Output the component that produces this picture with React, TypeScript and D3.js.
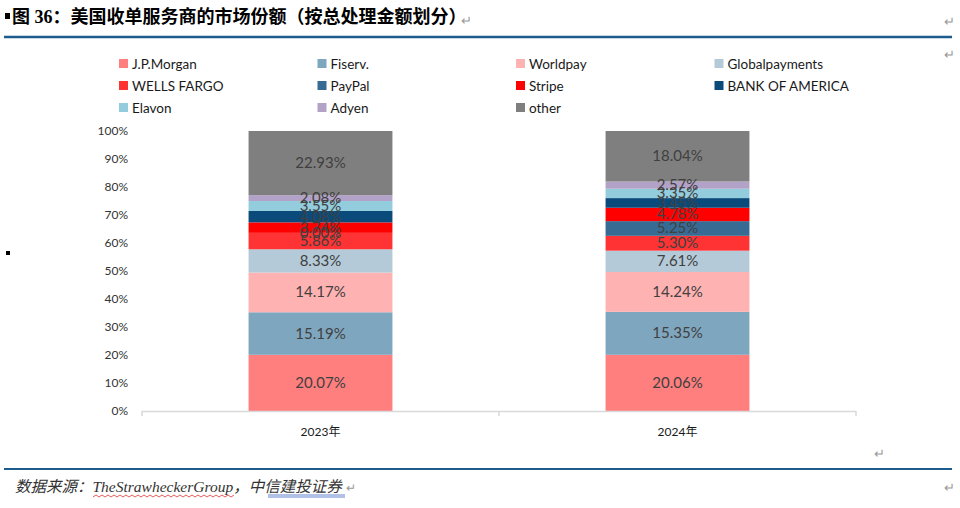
import * as d3 from "d3";

const years = ["2023年", "2024年"];
const series = [
  "J.P.Morgan",
  "Fiserv.",
  "Worldpay",
  "Globalpayments",
  "WELLS FARGO",
  "PayPal",
  "Stripe",
  "BANK OF AMERICA",
  "Elavon",
  "Adyen",
  "other",
];
const colors = [
  "#FF7F7F",
  "#7FA6BF",
  "#FFB2B2",
  "#B4CAD8",
  "#FF3333",
  "#376B93",
  "#FF0000",
  "#0B4B7B",
  "#93CDDD",
  "#B3A2C7",
  "#7F7F7F",
];
const values2023 = [20.07, 15.19, 14.17, 8.33, 5.86, 0.0, 3.74, 4.08, 3.55, 2.08, 22.93];
const values2024 = [20.06, 15.35, 14.24, 7.61, 5.3, 5.25, 4.78, 3.45, 3.35, 2.57, 18.04];
const yTicks = [0, 10, 20, 30, 40, 50, 60, 70, 80, 90, 100];

const W = 960;
const H = 508;
const latin = "Lato, 'Noto Sans CJK SC', sans-serif";
const serif = "'Liberation Serif', 'Noto Sans CJK SC', serif";

export default function App() {
  const x = d3
    .scaleBand()
    .domain(years)
    .range([142, 856])
    .paddingInner(0.597)
    .paddingOuter(0.2985);
  const y = d3.scaleLinear().domain([0, 100]).range([411, 131]);

  const rows = [values2023, values2024];
  const table = years.map((yr, i) => {
    const obj: Record<string, number | string> = { year: yr };
    series.forEach((s, j) => (obj[s] = rows[i][j]));
    return obj;
  });
  const stack = d3.stack<Record<string, number | string>>().keys(series)(table);

  const step = x.step();
  const axisTicks = [
    142,
    ...years.slice(1).map((yr) => (x(yr) || 0) - (step - x.bandwidth()) / 2),
    856,
  ];

  return (
    <svg
      width={W}
      height={H}
      style={{ position: "absolute", left: 0, top: 0, background: "#fff" }}
    >
      {/* title */}
      <rect x={5} y={13} width={5} height={6} fill="#000" />
      <text x={12} y={23} fontSize={18} fontWeight="bold" fontFamily={serif} fill="#000">
        图 36：美国收单服务商的市场份额（按总处理金额划分）
      </text>
      <text x={461} y={25} fontSize={13} fill="#999" fontFamily={latin}>↵</text>
      <text x={944} y={26} fontSize={13} fill="#999" fontFamily={latin}>↵</text>
      <text x={944} y={59} fontSize={13} fill="#999" fontFamily={latin}>↵</text>
      <line x1={4} x2={952} y1={37} y2={37} stroke="#1F5C8E" strokeWidth={2.5} />

      {/* legend */}
      {series.map((s, i) => {
        const col = i % 4;
        const row = Math.floor(i / 4);
        const lx = 119 + col * 198.5;
        const ly = 64 + row * 22;
        return (
          <g key={s}>
            <rect x={lx} y={ly - 5} width={9} height={9} fill={colors[i]} />
            <text x={lx + 13} y={ly + 4.5} fontSize={13.5} fontFamily={latin} fill="#1a1a1a">
              {s}
            </text>
          </g>
        );
      })}

      {/* y axis labels */}
      {yTicks.map((t) => (
        <text
          key={t}
          x={128}
          y={y(t) + 4}
          textAnchor="end"
          fontSize={12}
          fontFamily={latin}
          fill="#333"
        >
          {t}%
        </text>
      ))}

      {/* bars */}
      {stack.map((layer, j) => (
        <g key={series[j]}>
          {layer.map((d, i) => (
            <rect
              key={i}
              x={x(years[i]) || 0}
              y={y(d[1])}
              width={x.bandwidth()}
              height={y(d[0]) - y(d[1])}
              fill={colors[j]}
            />
          ))}
        </g>
      ))}
      {stack.map((layer, j) => (
        <g key={series[j] + "-lbl"}>
          {layer.map((d, i) => (
            <text
              key={i}
              x={(x(years[i]) || 0) + x.bandwidth() / 2}
              y={y((d[0] + d[1]) / 2) + 5}
              textAnchor="middle"
              fontSize={15}
              fontFamily={latin}
              fill="#404040"
            >
              {(d[1] - d[0]).toFixed(2)}%
            </text>
          ))}
        </g>
      ))}

      {/* x axis */}
      <line x1={142} x2={856} y1={411.5} y2={411.5} stroke="#D9D9D9" strokeWidth={1.5} />
      {axisTicks.map((t, i) => (
        <line key={i} x1={t} x2={t} y1={411} y2={416} stroke="#D9D9D9" strokeWidth={1.5} />
      ))}
      {years.map((yr) => (
        <text
          key={yr}
          x={(x(yr) || 0) + x.bandwidth() / 2}
          y={436}
          textAnchor="middle"
          fontSize={12}
          fontFamily={latin}
          fill="#1a1a1a"
        >
          {yr}
        </text>
      ))}

      <rect x={6} y={251} width={4} height={4} fill="#000" />
      <text x={874} y={458} fontSize={13} fill="#999" fontFamily={latin}>↵</text>

      {/* footer */}
      <line x1={4} x2={952} y1={469} y2={469} stroke="#1F5C8E" strokeWidth={2} />
      <text x={15} y={492} fontSize={15.5} fontStyle="italic" fontFamily={serif} fill="#333">
        数据来源：TheStrawheckerGroup，中信建投证券
      </text>
      <text x={346} y={492} fontSize={12} fill="#999" fontFamily={latin}>↵</text>
      <text x={944} y={492} fontSize={13} fill="#999" fontFamily={latin}>↵</text>
      <path
        d={d3
          .range(93, 236, 3)
          .map((v, i) => `${i === 0 ? "M" : "L"}${v},${i % 2 ? 495 : 497}`)
          .join("")}
        stroke="#E03030"
        strokeWidth={0.8}
        fill="none"
      />
      <line x1={268} x2={345} y1={495} y2={495} stroke="#3A62C0" strokeWidth={0.8} />
      <line x1={268} x2={345} y1={497} y2={497} stroke="#3A62C0" strokeWidth={0.8} />
    </svg>
  );
}
